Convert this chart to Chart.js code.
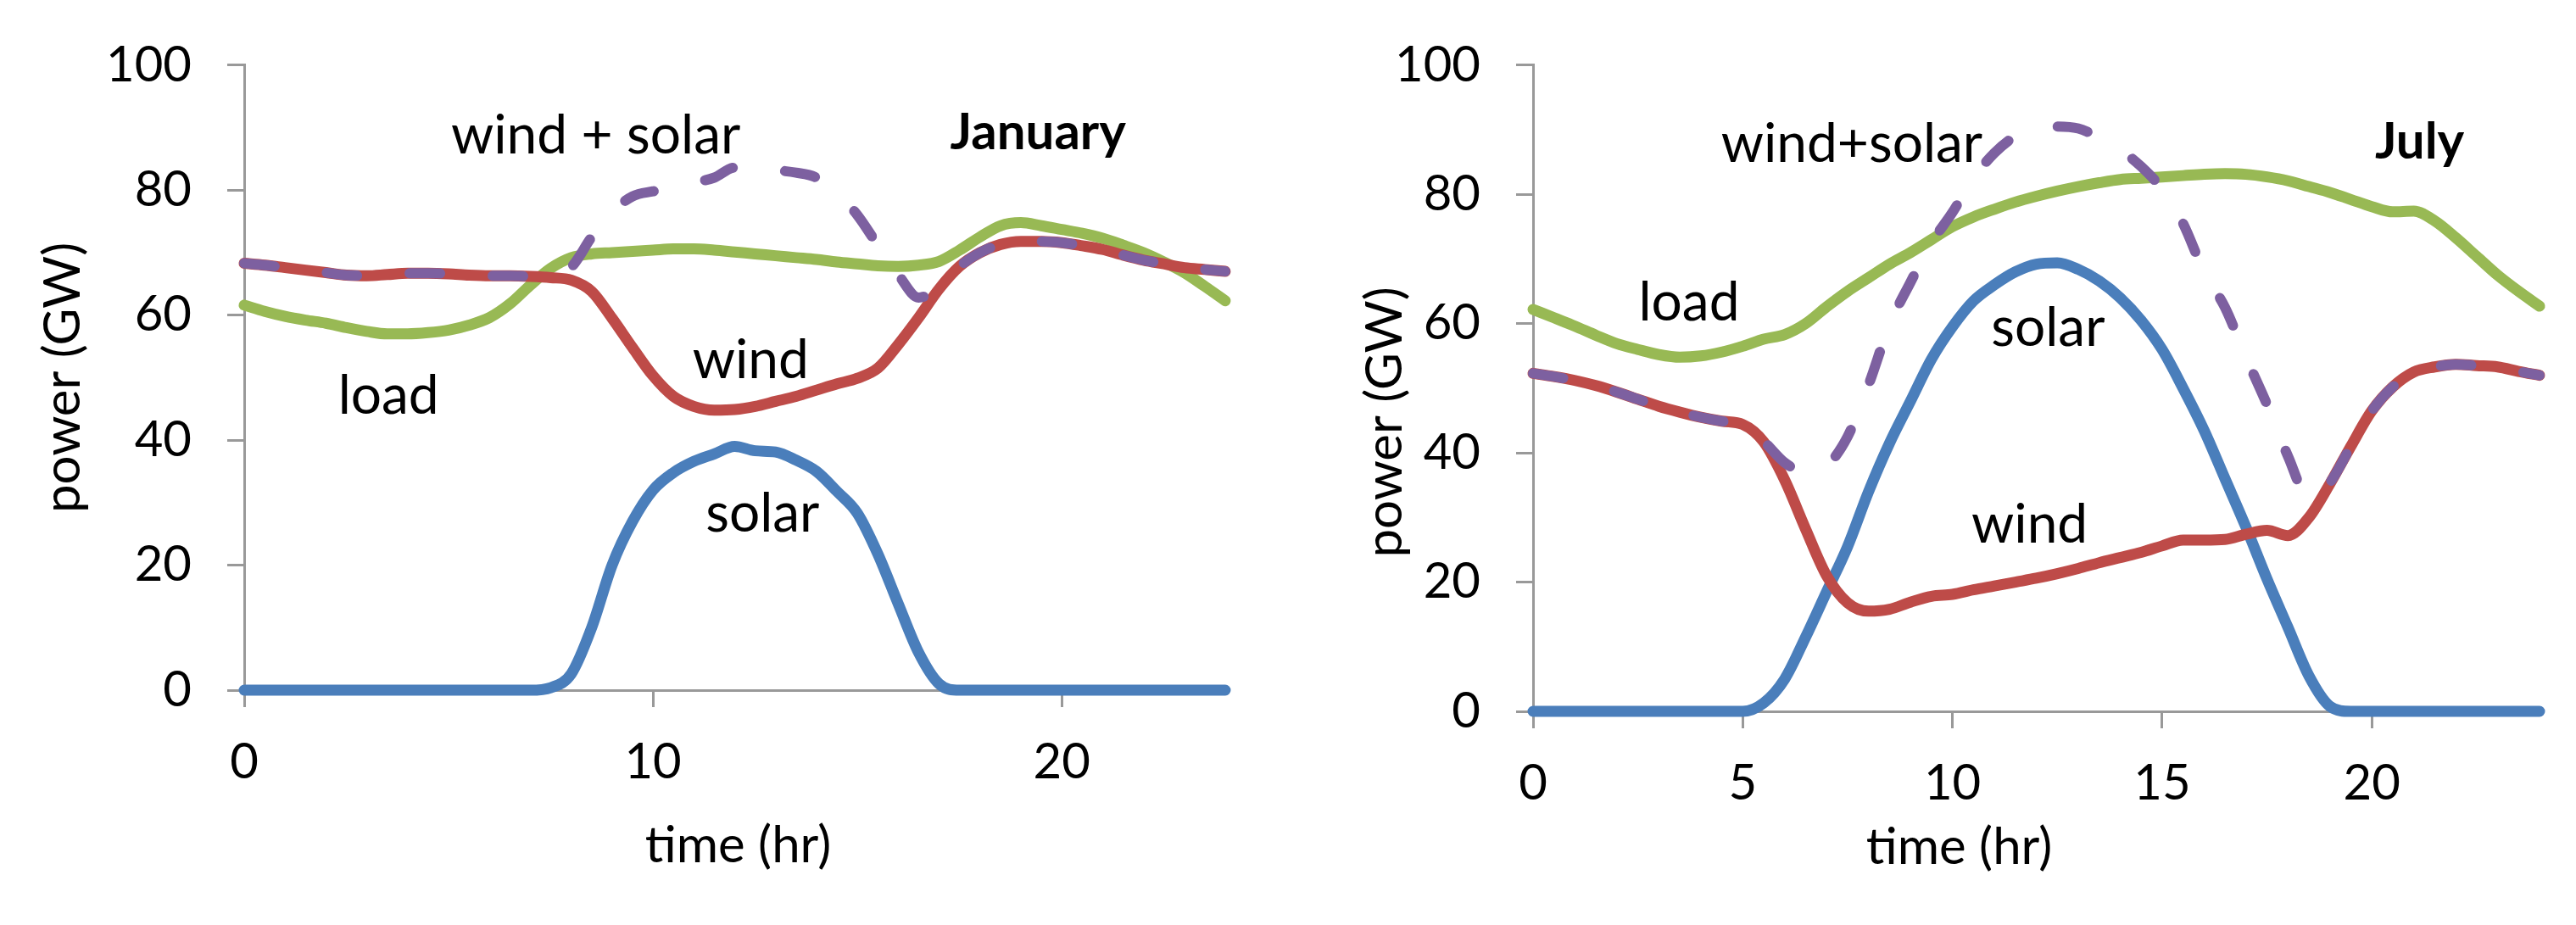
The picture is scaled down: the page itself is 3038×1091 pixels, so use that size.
<!DOCTYPE html>
<html><head><meta charset="utf-8">
<script src="https://cdn.jsdelivr.net/npm/chart.js@4.4.0/dist/chart.umd.min.js"></script>
<style>
html,body{margin:0;padding:0;background:#fff;width:3038px;height:1091px;overflow:hidden}
.wrap{position:absolute;top:0;width:1519px;height:1091px}
</style></head><body>
<div class="wrap" style="left:0"><canvas id="jan"></canvas></div>
<div class="wrap" style="left:1519px"><canvas id="jul"></canvas></div>
<script>
// ---------- data ----------
const hours = [0,0.5,1,1.5,2,2.5,3,3.5,4,4.5,5,5.5,6,6.5,7,7.5,8,8.5,9,9.5,10,10.5,11,11.5,12,12.5,13,13.5,14,14.5,15,15.5,16,16.5,17,17.5,18,18.5,19,19.5,20,20.5,21,21.5,22,22.5,23,23.5,24];

const janLoad  = [61.6,60.6,59.8,59.2,58.7,58.0,57.4,57.0,57.0,57.2,57.6,58.4,59.6,61.8,64.8,67.5,69.2,69.8,70.0,70.2,70.4,70.6,70.6,70.4,70.1,69.8,69.5,69.2,68.9,68.5,68.2,67.9,67.8,68.0,68.6,70.4,72.5,74.3,74.8,74.3,73.7,73.1,72.3,71.2,70.0,68.5,66.8,64.6,62.3];
const janWind  = [68.3,68.0,67.6,67.2,66.8,66.4,66.3,66.5,66.7,66.7,66.6,66.4,66.3,66.3,66.2,66.0,65.6,63.8,59.5,54.8,50.3,47.0,45.4,44.8,44.9,45.4,46.2,47.0,48.0,49.0,49.9,51.5,55.3,59.6,64.2,67.8,70.0,71.3,71.8,71.8,71.6,71.1,70.5,69.6,68.8,68.2,67.6,67.3,67.0];
const janSolar = [0,0,0,0,0,0,0,0,0,0,0,0,0,0,0,0.4,2.6,10.0,20.0,27.0,32.0,34.8,36.6,37.8,39.0,38.3,38.1,36.8,35.0,31.8,28.3,21.8,13.8,6.0,1.0,0,0,0,0,0,0,0,0,0,0,0,0,0,0];
const janWindSolar = [68.3,68.0,67.6,67.2,66.8,66.4,66.3,66.5,66.7,66.7,66.6,66.4,66.3,66.3,66.2,66.5,67.7,72.5,76.5,79.0,79.8,80.4,81.2,82.0,83.6,83.6,83.2,82.8,82.0,79.6,76.0,71.2,66.5,62.8,64.6,67.8,70.0,71.3,71.8,71.8,71.6,71.1,70.5,69.6,68.8,68.2,67.6,67.3,67.0];

const julLoad  = [62.2,60.9,59.6,58.2,56.9,56.0,55.2,54.8,55.0,55.6,56.5,57.6,58.3,60.0,62.6,65.0,67.1,69.2,71.0,73.0,75.0,76.5,77.7,78.8,79.7,80.5,81.2,81.8,82.3,82.5,82.7,82.9,83.1,83.2,83.1,82.7,82.1,81.2,80.3,79.2,78.1,77.3,77.4,75.9,73.3,70.4,67.5,65.0,62.7];
const julWind  = [52.3,51.8,51.2,50.4,49.4,48.3,47.2,46.3,45.5,44.9,44.4,41.7,35.8,28.2,21.0,16.8,15.5,15.8,16.9,17.8,18.1,18.8,19.4,20.0,20.6,21.3,22.1,23.0,23.8,24.6,25.6,26.5,26.5,26.6,27.4,28.0,27.2,30.0,35.2,41.0,46.5,50.2,52.5,53.3,53.7,53.5,53.3,52.6,52.0];
const julSolar = [0,0,0,0,0,0,0,0,0,0,0,1.3,5.0,11.5,18.5,25.5,34.0,41.5,48.0,54.5,59.5,63.5,66.0,68.0,69.2,69.4,68.4,66.6,64.0,60.5,56.0,50.0,43.5,36.0,28.5,20.5,13.0,5.5,0.8,0,0,0,0,0,0,0,0,0,0];
const julWindSolar = [52.3,51.8,51.2,50.4,49.4,48.3,47.2,46.3,45.5,44.9,44.4,41.8,38.5,37.0,38.0,42.5,50.5,59.8,66.4,72.5,77.2,82.5,86.4,89.0,90.3,90.5,90.2,88.8,86.9,84.3,80.8,75.5,68.0,62.5,54.8,47.5,39.5,33.0,35.4,41.0,46.5,50.2,52.5,53.3,53.7,53.5,53.3,52.6,52.0];

const yTicks = [0,20,40,60,80,100];
const janXTicks = [0,10,20];
const julXTicks = [0,5,10,15,20];

// in-plot labels: [text, hour, GW (baseline), bold]
const janLabels = [["wind + solar",8.6,85.9,false],["January",19.42,86.6,true],["load",3.53,44.2,false],["wind",12.39,49.9,false],["solar",12.68,25.3,false]];
const julLabels = [["wind+solar",7.6,85.0,false],["July",21.14,85.6,true],["load",3.72,60.5,false],["solar",12.28,56.5,false],["wind",11.84,26.1,false]];

// ---------- style ----------
const FONT = "Lato, 'Liberation Sans', sans-serif";
const C = {load:'#98b954', wind:'#be4b48', solar:'#4a7ebb', ws:'#7d60a0', axis:'#999999'};

const textPlugin = {
  id: 'texts',
  afterDatasetsDraw(chart, args, o) {
    const {ctx, chartArea: a, scales: {x, y}} = chart;
    ctx.save();
    ctx.fillStyle = '#000';
    ctx.textAlign = 'center';
    ctx.textBaseline = 'alphabetic';
    for (const [t, h, v, b] of o.items) {
      ctx.font = (b ? 'bold 60px ' : '64px ') + FONT;
      ctx.fillText(t, x.getPixelForValue(h), y.getPixelForValue(v));
    }
    ctx.font = '60px ' + FONT;
    ctx.textBaseline = 'middle';
    ctx.fillText('time (hr)', (a.left + a.right) / 2 + o.xt[0], a.bottom + o.xt[1]);
    ctx.translate(a.left + o.yt[0], (a.top + a.bottom) / 2 + o.yt[1]);
    ctx.rotate(-Math.PI / 2);
    ctx.fillText('power (GW)', 0, 0);
    ctx.restore();
  }
};

function pts(arr) { return hours.map((h, i) => ({x: h, y: arr[i]})); }

function makeChart(id, load, wind, solar, ws, xTicks, labels, L) {
  const base = {borderWidth: 13, pointRadius: 0, fill: false, cubicInterpolationMode: 'monotone',
                borderCapStyle: 'round', borderJoinStyle: 'round', clip: false};
  const axisCommon = (ticks) => ({
    type: 'linear',
    grid: {display: true, drawOnChartArea: false, drawTicks: true, tickLength: 20, color: C.axis, lineWidth: 3},
    border: {display: true, color: C.axis, width: 3},
    afterBuildTicks: s => { s.ticks = ticks.map(v => ({value: v})); }
  });
  new Chart(document.getElementById(id), {
    type: 'line',
    data: {datasets: [
      Object.assign({}, base, {label: 'wind+solar', data: pts(ws), borderColor: C.ws, borderWidth: 12, borderDash: [36, 62]}),
      Object.assign({}, base, {label: 'wind', data: pts(wind), borderColor: C.wind}),
      Object.assign({}, base, {label: 'load', data: pts(load), borderColor: C.load}),
      Object.assign({}, base, {label: 'solar', data: pts(solar), borderColor: C.solar})
    ]},
    options: {
      responsive: true, maintainAspectRatio: false, animation: false, devicePixelRatio: 1,
      layout: {padding: {left: 0, top: L.top, right: 1519 - L.right, bottom: 0}},
      plugins: {legend: {display: false}, tooltip: {enabled: false},
                texts: {items: labels, xt: L.xt, yt: L.yt}},
      scales: {
        x: Object.assign(axisCommon(xTicks), {min: 0, max: 24,
          ticks: {color: '#000', font: {family: FONT, size: 58}, padding: 30, maxRotation: 0, autoSkip: false},
          afterFit: s => { s.height = 1091 - L.bottom; }}),
        y: Object.assign(axisCommon(yTicks), {min: 0, max: 100,
          ticks: {color: '#000', font: {family: FONT, size: 58}, padding: 42, autoSkip: false},
          afterFit: s => { s.width = L.left; }})
      }
    },
    plugins: [textPlugin]
  });
}

makeChart('jan', janLoad, janWind, janSolar, janWindSolar, janXTicks, janLabels,
  {left: 288, right: 1445, top: 75, bottom: 814, xt: [4, 184], yt: [-213, 0]});
makeChart('jul', julLoad, julWind, julSolar, julWindSolar, julXTicks, julLabels,
  {left: 289, right: 1476, top: 50, bottom: 839, xt: [-91, 161], yt: [-174, 40]});
</script>
</body></html>
